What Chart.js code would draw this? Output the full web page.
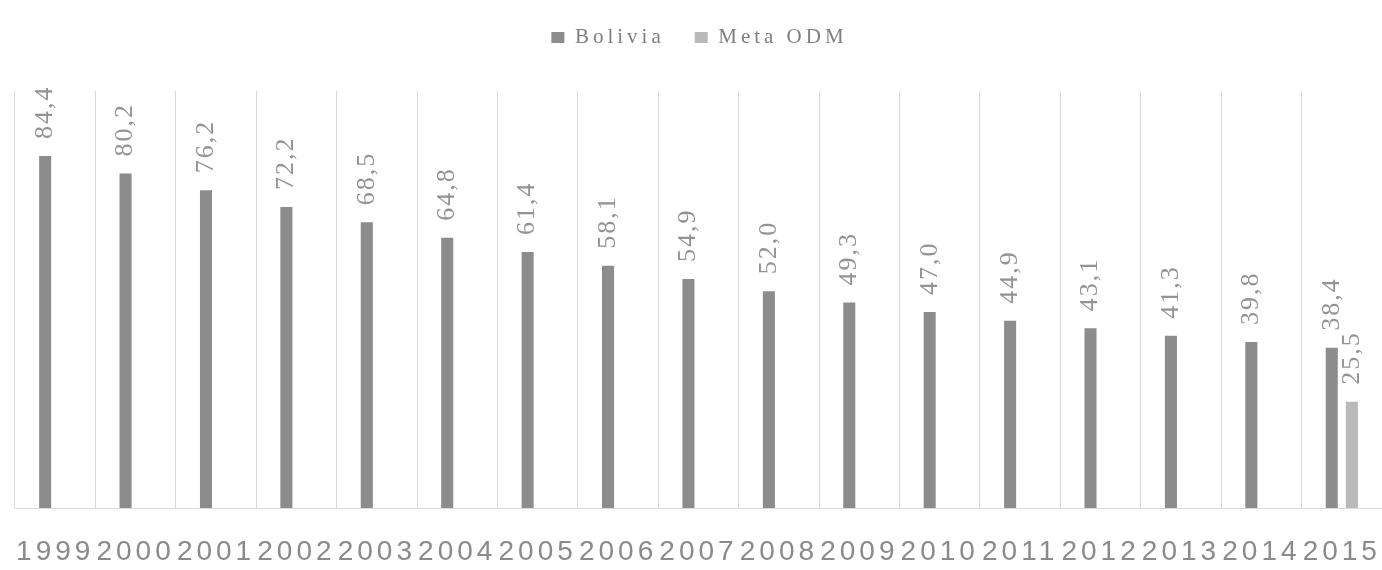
<!DOCTYPE html>
<html>
<head>
<meta charset="utf-8">
<script src="https://cdn.jsdelivr.net/npm/chart.js@4/dist/chart.umd.min.js"></script>
<style>
  html, body { margin: 0; padding: 0; background: #ffffff; overflow: hidden; }
  #wrap { width: 1382px; height: 570px; }
</style>
</head>
<body>
<div id="wrap"><canvas id="chart"></canvas></div>
<script>
// Years on the category axis
const years = ['1999', '2000', '2001', '2002', '2003', '2004', '2005', '2006', '2007', '2008',
               '2009', '2010', '2011', '2012', '2013', '2014', '2015'];
// Observed values for Bolivia
const bolivia = [84.4, 80.2, 76.2, 72.2, 68.5, 64.8, 61.4, 58.1, 54.9, 52.0,
                 49.3, 47.0, 44.9, 43.1, 41.3, 39.8, 38.4];
// Target value (only the final year)
const metaOdm = [null, null, null, null, null, null, null, null, null, null,
                 null, null, null, null, null, null, 25.5];
const seriesNames = ['Bolivia', 'Meta ODM'];

// Spaced-out lettering for the legend and axis labels
const spacing = {
  id: 'spacing',
  beforeUpdate(chart) { chart.ctx.letterSpacing = '4px'; },
  beforeDraw(chart) { chart.ctx.letterSpacing = '4px'; }
};

// Extra room under the legend
const legendGap = {
  id: 'legendGap',
  beforeInit(chart) {
    const fit = chart.legend.fit;
    chart.legend.fit = function () {
      fit.call(this);
      this.height += 33;
    };
  }
};

// Vertical value labels above each bar, with a decimal comma
const valueLabels = {
  id: 'valueLabels',
  afterDatasetsDraw(chart) {
    const ctx = chart.ctx;
    ctx.save();
    ctx.letterSpacing = '2px';
    ctx.font = '26px "Liberation Serif", serif';
    ctx.fillStyle = '#939393';
    ctx.textAlign = 'left';
    ctx.textBaseline = 'middle';
    chart.data.datasets.forEach((ds, di) => {
      const meta = chart.getDatasetMeta(di);
      meta.data.forEach((bar, i) => {
        const v = ds.data[i];
        if (v === null || v === undefined) return;
        ctx.save();
        ctx.translate(bar.x, bar.y - 17);
        ctx.rotate(-Math.PI / 2);
        ctx.fillText(v.toFixed(1).replace('.', ','), 0, 0);
        ctx.restore();
      });
    });
    ctx.restore();
  }
};

new Chart(document.getElementById('chart'), {
  type: 'bar',
  data: {
    labels: years,
    datasets: [
      { label: seriesNames[0], data: bolivia, backgroundColor: '#8c8c8c',
        categoryPercentage: 0.5, barPercentage: 0.6 },
      { label: seriesNames[1], data: metaOdm, backgroundColor: '#b9b9b9',
        categoryPercentage: 0.5, barPercentage: 0.6 }
    ]
  },
  options: {
    responsive: true,
    maintainAspectRatio: false,
    animation: false,
    layout: { padding: { top: -3, left: 15, right: -2, bottom: 0 } },
    plugins: {
      legend: {
        position: 'top',
        labels: {
          boxWidth: 13,
          boxHeight: 11,
          padding: 30,
          color: '#7f7f7f',
          font: { family: '"Liberation Serif", serif', size: 21 }
        }
      },
      tooltip: { enabled: false }
    },
    scales: {
      x: {
        grid: { color: '#d9d9d9', lineWidth: 1, drawTicks: false, offset: true },
        border: { color: '#d9d9d9', width: 1 },
        ticks: {
          color: '#8a8a8a',
          padding: 27,
          maxRotation: 0,
          autoSkip: false,
          font: { family: '"Liberation Sans", sans-serif', size: 28 }
        },
        afterFit(axis) {
          axis.paddingLeft = 0;
          axis.paddingRight = 0;
          axis.height = 62;
        }
      },
      y: {
        display: false,
        min: 0,
        max: 100
      }
    }
  },
  plugins: [spacing, legendGap, valueLabels]
});
</script>
</body>
</html>
